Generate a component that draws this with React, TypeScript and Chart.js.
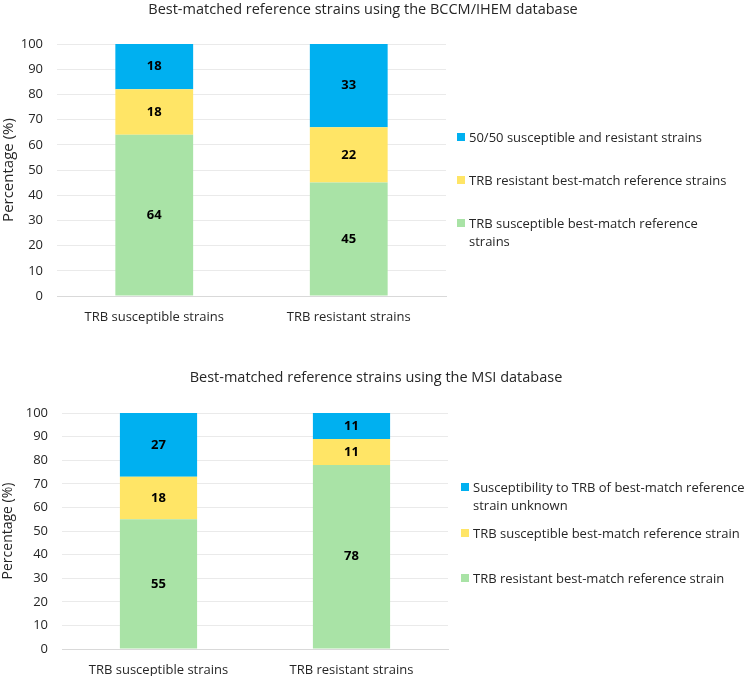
import React, { useEffect, useRef } from 'react';
import { Chart, registerables } from 'chart.js';

Chart.register(...registerables);

// shared
const categories = ['TRB susceptible strains', 'TRB resistant strains'];
const segmentColors = ['#A9E3A6', '#FFE566', '#00B0F0'];
const yAxisLabel = 'Percentage (%)';

// BCCM/IHEM database (stack order: bottom -> top)
const bccmTitle = 'Best-matched reference strains using the BCCM/IHEM database';
const bccmLabels = [
  'TRB susceptible best-match reference strains',
  'TRB resistant best-match reference strains',
  '50/50 susceptible and resistant strains',
];
const bccmGreen = [64, 45];
const bccmYellow = [18, 22];
const bccmBlue = [18, 33];

// MSI database
const msiTitle = 'Best-matched reference strains using the MSI database';
const msiLabels = [
  'TRB resistant best-match reference strain',
  'TRB susceptible best-match reference strain',
  'Susceptibility to TRB of best-match reference strain unknown',
];
const msiGreen = [55, 78];
const msiYellow = [18, 11];
const msiBlue = [27, 11];

const FONT = "'Open Sans', sans-serif";
const TEXT = '#262626';
const W = 746;
const H = 338;

const valueLabels = {
  id: 'valueLabels',
  afterDatasetsDraw(chart: any) {
    const { ctx } = chart;
    ctx.save();
    ctx.font = `bold 13px ${FONT}`;
    ctx.fillStyle = '#000';
    ctx.textAlign = 'center';
    ctx.textBaseline = 'middle';
    chart.data.datasets.forEach((ds: any, i: number) => {
      chart.getDatasetMeta(i).data.forEach((bar: any, j: number) => {
        const p = bar.getCenterPoint();
        ctx.fillText(String(ds.data[j]), p.x, p.y);
      });
    });
    ctx.restore();
  },
};

interface PanelProps {
  top: number;
  title: string;
  titleX: number;
  titleY: number;
  labels: string[];
  series: number[][];
  area: { left: number; top: number; right: number; bottom: number };
  yTitleSize: number;
  tickPad: number;
  xPad: number;
  legendX: number;
  legendY: number[];
  legendWidth: number;
}

const Panel: React.FC<PanelProps> = (p) => {
  const canvasRef = useRef<HTMLCanvasElement>(null);

  useEffect(() => {
    if (!canvasRef.current) return;
    const chart = new Chart(canvasRef.current, {
      type: 'bar',
      data: {
        labels: categories,
        datasets: p.series.map((d, i) => ({
          label: p.labels[i],
          data: d,
          backgroundColor: segmentColors[i],
          borderWidth: 0,
          barPercentage: 0.4,
          categoryPercentage: 1,
        })),
      },
      options: {
        animation: false,
        responsive: true,
        maintainAspectRatio: false,
        layout: { padding: { left: 0, top: p.area.top, right: W - p.area.right, bottom: 0 } },
        plugins: {
          legend: { display: false },
          title: { display: false },
          tooltip: { enabled: false },
        },
        scales: {
          x: {
            stacked: true,
            grid: { display: false },
            border: { color: '#D9D9D9' },
            ticks: { font: { family: FONT, size: 13 }, color: TEXT, padding: p.xPad },
            afterFit: (s: any) => { s.height = H - p.area.bottom; },
          },
          y: {
            stacked: true,
            min: 0,
            max: 100,
            ticks: { stepSize: 10, font: { family: FONT, size: 13 }, color: TEXT, padding: p.tickPad },
            grid: {
              drawTicks: false,
              color: (c: any) => (c.tick && c.tick.value === 0 ? '#D9D9D9' : '#EAEAEA'),
            },
            border: { display: false },
            title: {
              display: true,
              text: yAxisLabel,
              font: { family: FONT, size: p.yTitleSize },
              color: TEXT,
              padding: 0,
            },
            afterFit: (s: any) => { s.width = p.area.left; },
          },
        },
      },
      plugins: [valueLabels],
    });
    return () => chart.destroy();
  }, [p]);

  const legendOrder = [2, 1, 0];

  return (
    <div style={{ position: 'absolute', left: 0, top: p.top, width: W, height: H }}>
      <canvas ref={canvasRef}></canvas>
      <div
        style={{
          position: 'absolute',
          left: p.titleX - 300,
          width: 600,
          top: p.titleY - 10,
          lineHeight: '20px',
          textAlign: 'center',
          font: `14.5px ${FONT}`,
          color: TEXT,
          whiteSpace: 'nowrap',
        }}
      >
        {p.title}
      </div>
      {legendOrder.map((i, k) => (
        <div
          key={i}
          style={{
            position: 'absolute',
            left: p.legendX,
            top: p.legendY[k] - 9.25,
            width: p.legendWidth,
            font: `13px ${FONT}`,
            lineHeight: '18.5px',
            color: TEXT,
            paddingLeft: 12,
          }}
        >
          <span
            style={{
              position: 'absolute',
              left: 0,
              top: 5,
              width: 8,
              height: 8,
              background: segmentColors[i],
            }}
          />
          {p.labels[i]}
        </div>
      ))}
    </div>
  );
};

const bccmPanel: PanelProps = {
  top: 0,
  title: bccmTitle,
  titleX: 363,
  titleY: 9,
  labels: bccmLabels,
  series: [bccmGreen, bccmYellow, bccmBlue],
  area: { left: 57, top: 44, right: 446, bottom: 296 },
  yTitleSize: 15,
  tickPad: 14,
  xPad: 5,
  legendX: 457,
  legendY: [137, 180, 223],
  legendWidth: 265,
};

const msiPanel: PanelProps = {
  top: 338,
  title: msiTitle,
  titleX: 376,
  titleY: 39,
  labels: msiLabels,
  series: [msiGreen, msiYellow, msiBlue],
  area: { left: 62, top: 75, right: 448, bottom: 311 },
  yTitleSize: 14,
  tickPad: 14,
  xPad: 5,
  legendX: 461,
  legendY: [149, 195, 240],
  legendWidth: 280,
};

export default function App() {
  return (
    <div style={{ position: 'relative', width: W, height: 676, background: '#fff' }}>
      <style>{'body{margin:0}'}</style>
      <Panel {...bccmPanel} />
      <Panel {...msiPanel} />
    </div>
  );
}
